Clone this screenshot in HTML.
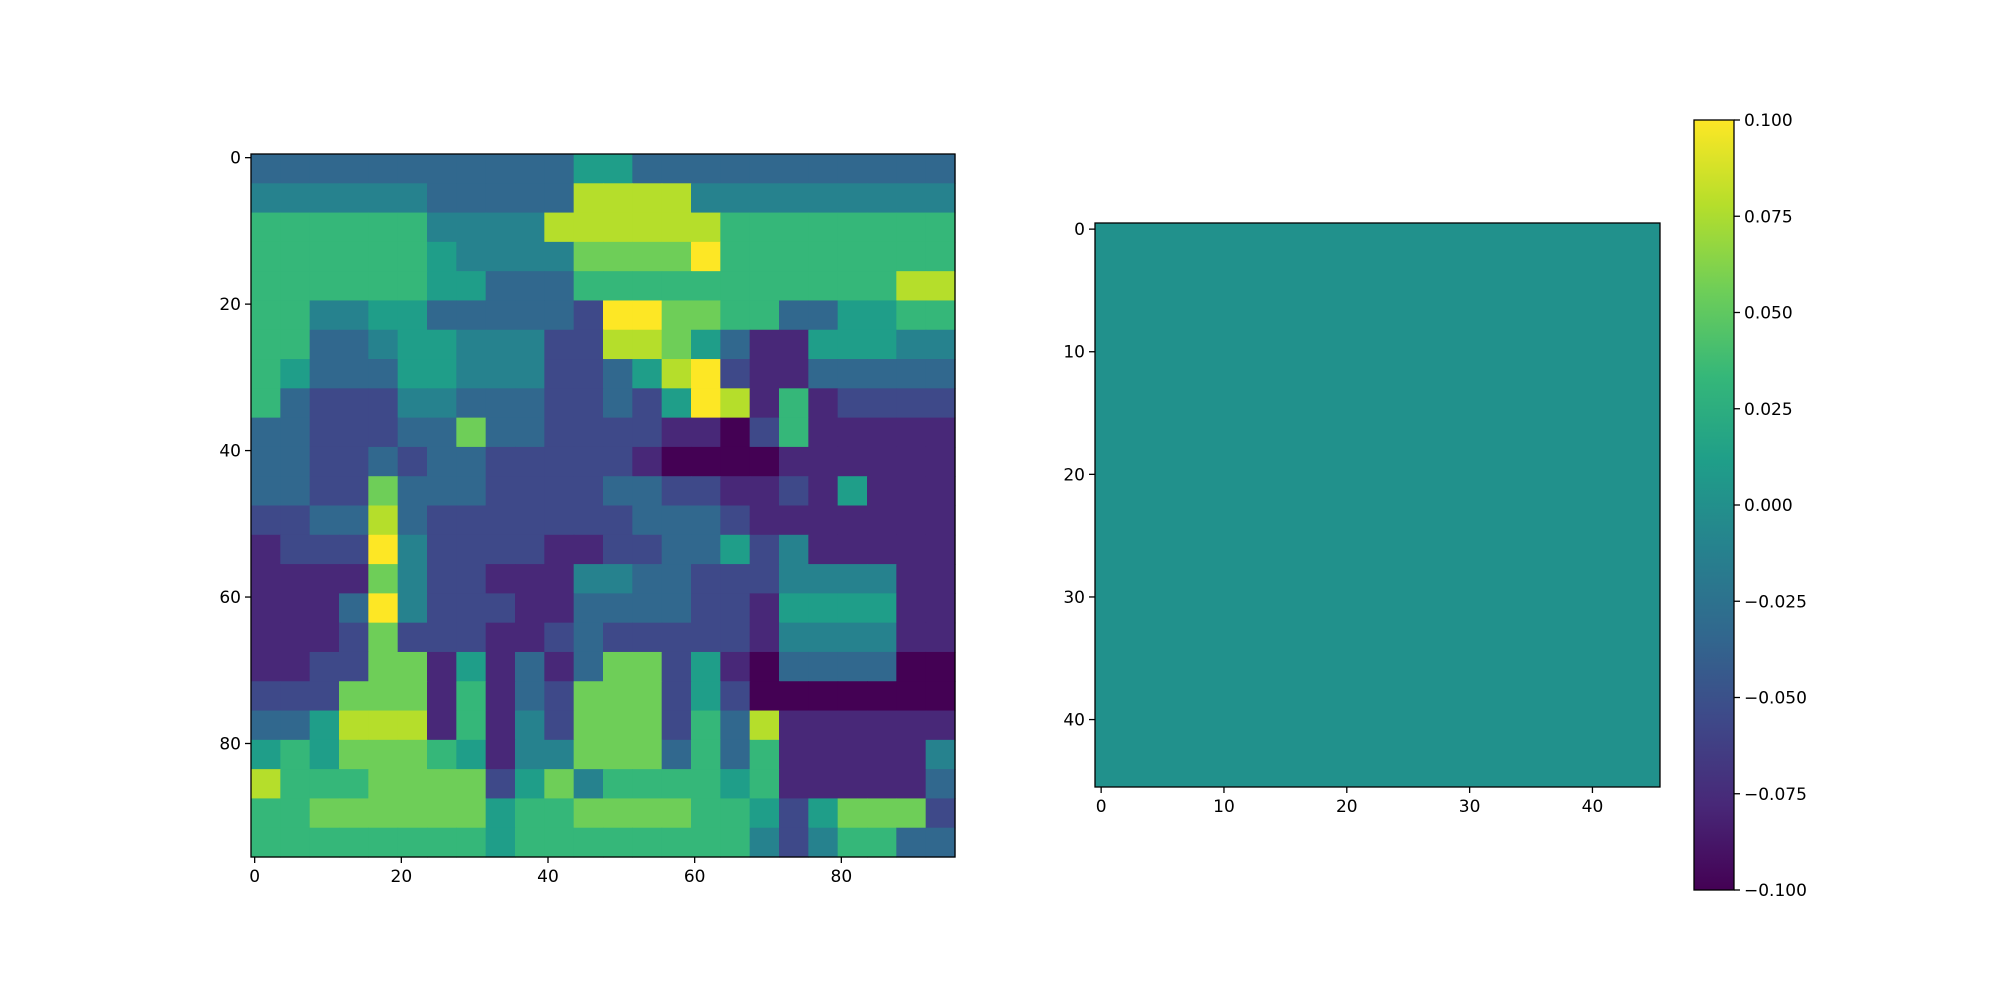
<!DOCTYPE html>
<html><head><meta charset="utf-8"><style>
html,body{margin:0;padding:0;background:#fff;}
svg{display:block;font-family:"DejaVu Sans","Liberation Sans",sans-serif;}
</style></head><body>
<svg id="fig" width="2000" height="1000" viewBox="0 0 2000 1000" xmlns="http://www.w3.org/2000/svg">
<defs>
<linearGradient id="vir" x1="0" y1="1" x2="0" y2="0">
<stop offset="0" stop-color="#440154"/><stop offset="0.111" stop-color="#482878"/><stop offset="0.222" stop-color="#3e4989"/><stop offset="0.333" stop-color="#31688e"/><stop offset="0.444" stop-color="#26828e"/><stop offset="0.556" stop-color="#1f9e89"/><stop offset="0.667" stop-color="#35b779"/><stop offset="0.778" stop-color="#6ece58"/><stop offset="0.889" stop-color="#b5de2b"/><stop offset="1" stop-color="#fde725"/>
</linearGradient>
</defs>
<g id="left"></g>
<g id="right"></g>
<g id="cbar"></g>
</svg>
<script>
// Left image: coarse 24x24 approximation (each cell = 4x4 image pixels), levels 0..9
const leftRows = [
"333333333335533333333333",
"444444333338888444444444",
"666666444488888866666666",
"666666544447777966666666",
"666666553336666666666688",
"664455333332997766335566",
"663345544422887531155544",
"653335544422358921133333",
"632224433322325981612222",
"332223373322221102611111",
"332232332222210000111111",
"332273332222332211215111",
"223383222222233321111111",
"122294222211223352411111",
"111174221114433222444411",
"111394222113333221555511",
"111272221123222221444411",
"112277151313772510333300",
"222777161327772520000000",
"335888161427772638111111",
"565777651447773636111114",
"866677772574666656111113",
"667777775667777665257772",
"666666665666666664246633"
];
const leftTicks = [0, 20, 40, 60, 80];
const leftSize = 96;
const rightValue = 0.0;
const rightSize = 46;
const rightTicks = [0, 10, 20, 30, 40];
const cbarTicks = [0.100, 0.075, 0.050, 0.025, 0.000, -0.025, -0.050, -0.075, -0.100];
const cbarMin = -0.1, cbarMax = 0.1;

const viridis = ["#440154","#482878","#3e4989","#31688e","#26828e","#1f9e89","#35b779","#6ece58","#b5de2b","#fde725"];
const NS = "http://www.w3.org/2000/svg";
function mk(tag, attrs, parent){const e=document.createElementNS(NS,tag);for(const k in attrs)e.setAttribute(k,attrs[k]);parent.appendChild(e);return e;}

function drawAxes(g, x0, y0, w, h, n, ticks, prefix){
  const sx = v => x0 + (v + 0.5) * w / n;
  const sy = v => y0 + (v + 0.5) * h / n;
  ticks.forEach(t => {
    const xt = mk('line',{x1:sx(t),x2:sx(t),y1:y0+h,y2:y0+h+6,stroke:'#000','stroke-width':1.3},g);
    
    
    const xl = mk('text',{x:sx(t),y:y0+h+25,'font-size':17,'text-anchor':'middle',fill:'#000'},g);
    xl.textContent = t;
    
    
    const yt = mk('line',{x1:x0-6,x2:x0,y1:sy(t),y2:sy(t),stroke:'#000','stroke-width':1.3},g);
    
    
    const yl = mk('text',{x:x0-10,y:sy(t)+6,'font-size':17,'text-anchor':'end',fill:'#000'},g);
    yl.textContent = t;
    
    
  });
  const fr = mk('rect',{x:x0,y:y0,width:w,height:h,fill:'none',stroke:'#000','stroke-width':1.3},g);
  
  
}

// Left image
(function(){
  const g = document.getElementById('left');
  const x0=251, y0=154, w=704, h=703;
  const cells = leftRows.length, cs = leftSize / cells;
  const px = w/leftSize, py = h/leftSize;
  leftRows.forEach((row, r) => {
    for (let c = 0; c < row.length; c++) {
      const v = +row[c];
      const rc = mk('rect',{x:x0+c*cs*px,y:y0+r*cs*py,width:cs*px+0.6,height:cs*py+0.6,fill:viridis[v]},g);
      
      
    }
  });
  drawAxes(g, x0, y0, w, h, leftSize, leftTicks, 'left');
})();

// Right image (constant)
(function(){
  const g = document.getElementById('right');
  const x0=1095, y0=223, w=565, h=564;
  const rc = mk('rect',{x:x0,y:y0,width:w,height:h,fill:'#21918c'},g);
  
  
  drawAxes(g, x0, y0, w, h, rightSize, rightTicks, 'right');
})();

// Colorbar
(function(){
  const g = document.getElementById('cbar');
  const x0=1694, y0=120, w=40, h=770;
  const sy = v => y0 + (cbarMax - v)/(cbarMax - cbarMin) * h;
  const r = mk('rect',{x:x0,y:y0,width:w,height:h,fill:'url(#vir)',stroke:'#000','stroke-width':1.3},g);
  
  
  cbarTicks.forEach(v => {
    const tk = mk('line',{x1:x0+w,x2:x0+w+6,y1:sy(v),y2:sy(v),stroke:'#000','stroke-width':1.3},g);
    
    
    const tl = mk('text',{x:x0+w+10,y:sy(v)+6,'font-size':17,fill:'#000'},g);
    tl.textContent = (v < 0 ? '\u2212' : '') + Math.abs(v).toFixed(3);
    
    
  });
})();
</script>
</body></html>
